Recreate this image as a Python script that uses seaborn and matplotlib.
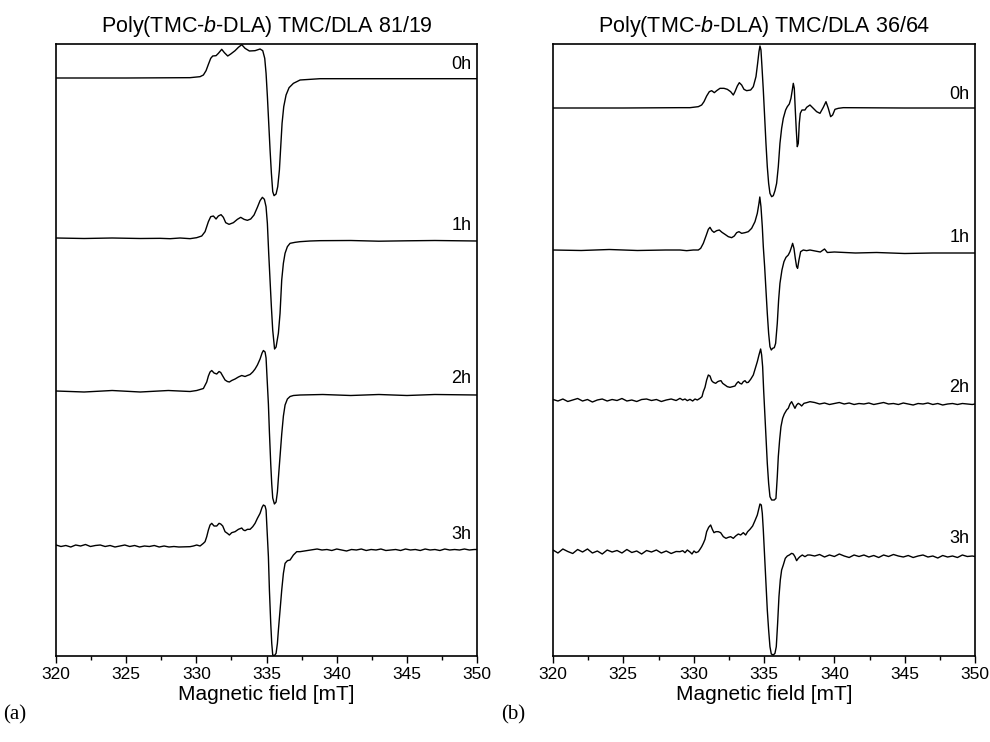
import numpy as np
import pandas as pd
import matplotlib
matplotlib.use("Agg")
import matplotlib.pyplot as plt
import seaborn as sns

# ---------------- data ----------------
# Intensities in arbitrary units relative to each trace's own baseline.
times = ["0h", "1h", "2h", "3h"]

# Panel (a): Poly(TMC-b-DLA) TMC/DLA 81/19
a0_field = [320, 325, 329.549, 330.262, 330.499, 330.689, 330.856, 331.022, 331.164, 331.402, 331.568,
            331.806, 331.996, 332.233, 332.447, 332.756, 332.993, 333.231, 333.468, 333.777, 334.181,
            334.538, 334.728, 334.870, 334.965, 335.060, 335.155, 335.250, 335.345, 335.440, 335.535,
            335.678, 335.796, 335.915, 336.010, 336.105, 336.224, 336.390, 336.604, 336.913, 337.151,
            337.388, 338.81, 342, 346, 350]
a0_int = [0, 0, 0.33, 1.33, 3, 7.33, 13.67, 19.67, 22, 22.33, 24.67, 28.67, 25.33, 22, 24, 27.33,
          30.67, 33.33, 29.67, 27, 27.33, 29, 27.33, 19.67, 4.67, -18.67, -45.33, -72, -95.33,
          -113.67, -117.67, -116, -108.67, -92, -68.67, -45.33, -28.67, -17, -9.67, -5.33, -3.67,
          -2, -0.7, -0.7, -0.7, -0.7]

a1_field = [320, 322, 324, 326, 327.411, 328.124, 328.836, 329.549, 330.024, 330.380, 330.618, 330.855,
            331.021, 331.211, 331.401, 331.567, 331.757, 331.923, 332.089, 332.327, 332.636, 332.921,
            333.158, 333.396, 333.633, 333.871, 334.108, 334.346, 334.536, 334.702, 334.845, 334.963,
            335.058, 335.153, 335.248, 335.343, 335.438, 335.571, 335.678, 335.842, 335.961, 336.080,
            336.198, 336.317, 336.483, 336.673, 337.030, 337.386, 338.099, 338.811, 341, 343, 345,
            347, 350]
a1_int = [1, 0.5, 1, 0.5, 0.67, 0.3, 1, 0.33, 1.33, 3, 7.33, 17.33, 22.33, 23, 20, 23, 24.33, 21.67,
          16.33, 14.67, 16.33, 19.67, 21.67, 19.67, 18.67, 20, 24, 31.67, 38.33, 41.67, 39.67, 32.33,
          15.67, -14.33, -41, -67.67, -91, -110, -108, -94.33, -74.33, -41, -24.33, -14.33, -7.67,
          -4.33, -3.33, -2.67, -2, -1.67, -1.5, -2.2, -1.8, -1.5, -2]

a2_field = [320, 322, 324, 326, 328, 329.549, 330.024, 330.499, 330.737, 330.856, 330.974, 331.093,
            331.259, 331.449, 331.616, 331.734, 331.877, 332.043, 332.209, 332.352, 332.518, 332.756,
            332.993, 333.231, 333.468, 333.635, 333.825, 334.015, 334.181, 334.348, 334.538, 334.680,
            334.775, 334.894, 334.965, 335.036, 335.131, 335.203, 335.298, 335.369, 335.440, 335.559,
            335.678, 335.773, 335.844, 335.963, 336.081, 336.200, 336.319, 336.485, 336.675, 336.913,
            337.388, 339, 341, 343, 345, 347, 350]
a2_int = [1, 0, 1.5, 0, 1.5, 0.5, 1.5, 3.5, 10, 16, 20, 21.5, 19, 18, 20.5, 19.5, 16, 12, 10.5, 10,
          11.5, 13, 15, 16.5, 15.5, 16.5, 17.5, 20, 23, 27, 33, 39, 41.5, 40, 34, 14, -12, -40, -72,
          -92, -106, -112, -110, -100, -86, -64, -42, -24, -13, -7, -4.5, -3.5, -3, -2.5, -3.5,
          -2.5, -3.5, -2.5, -3]

a3_field = [320.0, 320.35, 320.7, 321.05, 321.4, 321.75, 322.1, 322.45, 322.8, 323.15, 323.5, 323.85,
            324.2, 324.55, 324.9, 325.25, 325.6, 325.95, 326.3, 326.65, 327.0, 327.35, 327.7, 328.05,
            328.4, 328.75, 329.549, 329.786, 330.024, 330.262, 330.499, 330.618,
            330.737, 330.856, 330.974, 331.093, 331.259, 331.449, 331.616, 331.734, 331.877, 332.043,
            332.209, 332.352, 332.518, 332.756, 332.993, 333.231, 333.350, 333.468, 333.635, 333.825,
            334.015, 334.181, 334.348, 334.538, 334.680, 334.775, 334.894, 334.965, 335.036, 335.131,
            335.203, 335.298, 335.369, 335.440, 335.559, 335.678, 335.773, 335.844, 335.963, 336.081,
            336.200, 336.319, 336.485, 336.675, 336.913, 337.151, 337.388,
            338.6, 338.95, 339.3, 339.65, 340.0, 340.35, 340.7, 341.05, 341.4, 341.75, 342.1, 342.45,
            342.8, 343.15, 343.5, 343.85, 344.2, 344.55, 344.9, 345.25, 345.6, 345.95, 346.3, 346.65,
            347.0, 347.35, 347.7, 348.05, 348.4, 348.75, 349.1, 349.45, 349.8, 350]
a3_int = [3, 1.5, 2.5, 1, 3, 2, 3.5, 1.5, 2.5, 3, 1.5, 2.5, 1, 2, 3, 1.5, 2.5, 1, 2, 1.5, 2.5, 1, 2,
          1, 1.5, 1,
          1.33, 2, 3, 2, 4.67, 6.33, 11.33, 18, 23, 24.67, 22, 22, 24.67, 24,
          22, 16.33, 14.67, 13, 15.33, 16.33, 18.67, 20, 18, 17.33, 18.67, 18.67, 21.33, 24.67,
          29.67, 34.67, 40.67, 43, 42, 38, 18, -8.67, -42, -75.33, -95.33, -107, -107.67, -105.33,
          -95.33, -82, -62, -42, -25.33, -15.33, -12.67, -12, -7, -3.67, -3.67,
          -1, -2, -1.5, -2.5, -1, -2, -3, -1.5, -2, -1, -2.5, -1.5, -2, -1, -2.5, -2, -1.5, -2.5,
          -1, -2, -1.5, -2.5, -1, -2, -1.5, -2.5, -1, -2, -1.5, -2, -1, -2, -1.5, -1.5]

# Panel (b): Poly(TMC-b-DLA) TMC/DLA 36/64
b0_field = [320, 325, 329.026, 329.737, 330.329, 330.566, 330.732, 330.921, 331.111, 331.277, 331.466,
            331.632, 331.869, 332.153, 332.390, 332.627, 332.816, 332.935, 333.101, 333.243, 333.409,
            333.574, 333.764, 334.048, 334.237, 334.427, 334.545, 334.640, 334.711, 334.782, 334.853,
            334.948, 335.043, 335.137, 335.232, 335.327, 335.421, 335.540, 335.658, 335.777, 335.895,
            336.014, 336.132, 336.251, 336.369, 336.535, 336.654, 336.796, 336.914, 337.009, 337.080,
            337.151, 337.222, 337.293, 337.364, 337.435, 337.506, 337.577, 337.696, 337.909, 338.029,
            338.266, 338.503, 338.740, 338.977, 339.213, 339.403, 339.568, 339.734, 339.876, 340.042,
            340.279, 340.634, 345, 350]
b0_int = [0, 0, 0.33, 0.33, 1.33, 3, 6.33, 12, 16.33, 17.33, 15.33, 17.33, 19.67, 19.67, 18.67, 16.33,
          13, 16.33, 22, 25.33, 23, 18.67, 17.33, 18, 21.33, 31.33, 44.67, 56.33, 62, 58, 41.33, 18,
          -8.67, -35.33, -58.67, -75.33, -85.33, -88.67, -87.67, -82.67, -75.33, -58.67, -35.33,
          -20.33, -10.33, -2, 1.33, 4, 9.67, 18, 24.67, 19.67, -2, -22, -38.67, -35.33, -15.33,
          -5.33, -2, -2, 0.67, 3, -0.33, -3.67, -5.33, 0.67, 6.33, -0.33, -8.67, -7, -1.33, -0.33,
          0.33, 0, 0]

b1_field = [320, 322, 324, 326, 328, 329.026, 329.500, 329.974, 330.329, 330.495, 330.684, 330.874,
            331.040, 331.158, 331.300, 331.442, 331.632, 331.821, 332.011, 332.224, 332.461, 332.698,
            332.887, 333.053, 333.219, 333.409, 333.646, 333.882, 334.119, 334.356, 334.522, 334.640,
            334.700, 334.782, 334.877, 334.948, 335.043, 335.137, 335.232, 335.327, 335.421, 335.516,
            335.611, 335.729, 335.824, 335.942, 336.037, 336.132, 336.274, 336.416, 336.559, 336.724,
            336.843, 336.961, 337.032, 337.127, 337.222, 337.316, 337.387, 337.482, 337.601, 337.790,
            338.027, 338.265, 339.0, 339.3, 339.5, 340, 341.5, 343, 345, 347, 350]
b1_int = [1, 0.5, 1.5, 0.5, 1, 1, 0.33, 1, 1, 2.67, 7.67, 15, 21.67, 23.67, 20.33, 18.67, 20.33, 21,
          18.67, 16.67, 14.33, 13.33, 15, 18.33, 19.33, 17.67, 18.33, 19.33, 22.67, 29.33, 37.67,
          47.67, 54, 44.33, 24.33, 4.33, -15.67, -39, -62.33, -82.33, -95.67, -99, -97.33, -96.67,
          -92.33, -72.33, -49, -32.33, -19, -10.67, -6.33, -4, -0.67, 4.33, 7.67, 2.67, -7.33,
          -15.67, -17.33, -9, -0.67, 1, 0.33, 1, -1, 2, -1.5, -1, -2, -1.5, -2.5, -2, -2]

b2_field = [320.0, 320.35, 320.7, 321.05, 321.4, 321.75, 322.1, 322.45, 322.8, 323.15, 323.5, 323.85,
            324.2, 324.55, 324.9, 325.25, 325.6, 325.95, 326.3, 326.65, 327.0, 327.35, 327.7, 328.05,
            328.4, 328.75, 329.026, 329.216, 329.382, 329.547, 329.737,
            329.926, 330.092, 330.258, 330.447, 330.590, 330.684, 330.803, 330.921, 331.040, 331.158,
            331.277, 331.395, 331.561, 331.703, 331.821, 331.940, 332.058, 332.224, 332.390, 332.580,
            332.769, 332.935, 333.053, 333.172, 333.290, 333.409, 333.527, 333.646, 333.764, 333.882,
            334.048, 334.237, 334.380, 334.522, 334.640, 334.759, 334.830, 334.901, 334.972, 335.066,
            335.137, 335.232, 335.327, 335.421, 335.540, 335.729, 335.847, 335.942, 336.014, 336.108,
            336.203, 336.322, 336.440, 336.606, 336.724, 336.843, 336.961, 337.080, 337.198, 337.316,
            337.435, 337.553, 337.672, 337.838, 338.027, 338.265,
            338.6, 338.95, 339.3, 339.65, 340.0, 340.35, 340.7, 341.05, 341.4, 341.75, 342.1, 342.45,
            342.8, 343.15, 343.5, 343.85, 344.2, 344.55, 344.9, 345.25, 345.6, 345.95, 346.3, 346.65,
            347.0, 347.35, 347.7, 348.05, 348.4, 348.75, 349.1, 349.45, 349.8, 350]
b2_int = [1.5, 0, 2, -0.5, 1, 2.5, 0, 1.5, -1, 1, 2, 0, 1.5, 0.5, 2.5, 0, 1, -0.5, 1.5, 2, 0.5, 1.5,
          -0.5, 1, 2, 0.5,
          2.67, 1, 2, 0.33, 1.67, 0, 2, 1, 2.67, 4.33, 9.33, 13.67, 21,
          26, 25, 20.33, 18.67, 17.67, 19.33, 20, 20.33, 17.67, 16, 14.33, 13.67, 14.33, 15, 17.67,
          19.33, 17.67, 17, 19.33, 20.33, 18.33, 18.67, 21.67, 26, 32.67, 39.33, 46, 52, 46, 34.33,
          11, -15.67, -35.67, -62.33, -82.33, -95.67, -99, -99, -97.33, -75.67, -55.67, -39, -25.67,
          -17.33, -13, -9, -7.33, -3, -0.67, -4, -7.33, -4, -2.33, -3.33, -5, -2.33, -1.67, -0.67,
          -1.5, -3, -2, -3.5, -2.5, -1.5, -3, -2, -3.5, -2.5, -3, -2, -3.5, -2.5, -1.5, -3, -2.5,
          -3.5, -2, -3, -4, -2.5, -3, -2, -3.5, -2.5, -4, -3, -2.5, -3.5, -2.5, -3, -3.5, -3]

b3_field = [320.0, 320.35, 320.7, 321.05, 321.4, 321.75, 322.1, 322.45, 322.8, 323.15, 323.5, 323.85,
            324.2, 324.55, 324.9, 325.25, 325.6, 325.95, 326.3, 326.65, 327.0, 327.35, 327.7, 328.05,
            328.4, 328.75,
            329.026, 329.216, 329.382, 329.547, 329.737, 329.879, 330.021, 330.163, 330.329, 330.447,
            330.566, 330.684, 330.803, 330.921, 331.063, 331.205, 331.324, 331.442, 331.584, 331.750,
            331.916, 332.106, 332.295, 332.461, 332.627, 332.816, 332.982, 333.172, 333.338, 333.527,
            333.693, 333.835, 334.001, 334.190, 334.356, 334.522, 334.640, 334.711, 334.806, 334.877,
            334.948, 335.043, 335.137, 335.232, 335.327, 335.421, 335.516, 335.658, 335.777, 335.871,
            335.966, 336.061, 336.156, 336.251, 336.369, 336.511, 336.654, 336.796, 336.961, 337.080,
            337.198, 337.316, 337.435, 337.553, 337.719, 337.909, 338.099, 338.265,
            338.6, 338.95, 339.3, 339.65, 340.0, 340.35, 340.7, 341.05, 341.4, 341.75, 342.1, 342.45,
            342.8, 343.15, 343.5, 343.85, 344.2, 344.55, 344.9, 345.25, 345.6, 345.95, 346.3, 346.65,
            347.0, 347.35, 347.7, 348.05, 348.4, 348.75, 349.1, 349.45, 349.8, 350]
b3_int = [2, -1, 3, 0.5, -1.5, 2.5, 0, 3, -1, 1, -2, 2, 0, 1.5, -1, 2.5, -0.5, 1, -2, 1.5, 0, 2, -1,
          1, -1.5, 0.5,
          0.33, 1.33, -0.67, 2, 0, -2, 1, -0.67, 0.33,
          2.67, 5.33, 8.67, 12.67, 20.33, 24.67, 27, 22.67, 19.33, 20.33, 20.33, 19.33, 15.33, 13.67,
          14.67, 15.33, 13.67, 16, 18, 17, 19.33, 17, 20.33, 22.67, 26, 31.33, 37, 43.67, 48, 47,
          38.67, 22, -4.67, -31.33, -58, -78, -94.67, -102, -103, -101.33, -94.67, -71.33, -44.67,
          -28, -18, -13, -6.33, -4, -3, -1.33, -2, -4.67, -8.67, -6.33, -4.67, -3, -4.67, -3, -3,
          -4, -2.5, -5, -3, -4.5, -2, -4, -5.5, -3, -4.5, -3, -5, -3.5, -5.5, -3, -4.5, -2.5, -4,
          -5, -3.5, -5.5, -4, -3, -5, -4, -6, -3.5, -5, -4, -5.5, -3, -4.5, -4, -4.5]

# vertical stacking offsets of each trace (axis units)
a_offsets = [578, 417, 264, 108]
b_offsets = [548, 405, 255, 104]

titles = ["Poly(TMC-$\\mathit{b}$-DLA) TMC/DLA 81/19", "Poly(TMC-$\\mathit{b}$-DLA) TMC/DLA 36/64"]
panel_tags = ["(a)", "(b)"]
xlabel = "Magnetic field [mT]"

panels = [
    (list(zip([a0_field, a1_field, a2_field, a3_field], [a0_int, a1_int, a2_int, a3_int])), a_offsets),
    (list(zip([b0_field, b1_field, b2_field, b3_field], [b0_int, b1_int, b2_int, b3_int])), b_offsets),
]

# ---------------- style ----------------
sns.set_theme(style="ticks")
plt.rcParams["font.family"] = ["Liberation Sans", "DejaVu Sans"]
plt.rcParams["mathtext.fontset"] = "custom"
plt.rcParams["mathtext.rm"] = "Liberation Sans"
plt.rcParams["mathtext.it"] = "Liberation Sans:italic"
plt.rcParams["text.color"] = "black"
plt.rcParams["axes.labelcolor"] = "black"
plt.rcParams["xtick.color"] = "black"
plt.rcParams["xtick.labelcolor"] = "black"

fig = plt.figure(figsize=(9.9, 7.42), dpi=100)
ax_pos = [[0.0566, 0.1159, 0.4253, 0.8248], [0.5586, 0.1159, 0.4263, 0.8248]]
tag_pos = [(0.003, 0.036), (0.506, 0.036)]

for i, ((traces, offsets), pos) in enumerate(zip(panels, ax_pos)):
    ax = fig.add_axes(pos)
    for (fld, inten), off, lab in zip(traces, offsets, times):
        df = pd.DataFrame({"field": fld, "signal": np.array(inten, dtype=float) + off})
        sns.lineplot(data=df, x="field", y="signal", ax=ax, color="black", lw=1.0,
                     estimator=None, sort=False)
        ax.text(349.6, off + 5, lab, ha="right", va="bottom", fontsize=13, color="black")
    ax.set_xlim(320, 350)
    ax.set_ylim(0, 612)
    ax.set_xticks(np.arange(320, 351, 5))
    ax.set_xticks(np.arange(322.5, 350, 5), minor=True)
    ax.set_yticks([])
    ax.set_ylabel("")
    ax.set_xlabel(xlabel, fontsize=15, labelpad=2, color="black")
    ax.tick_params(axis="x", which="major", direction="out", length=5, width=1, labelsize=12.5, pad=3)
    ax.tick_params(axis="x", which="minor", direction="out", length=3, width=1)
    for sp in ax.spines.values():
        sp.set_visible(True)
        sp.set_color("black")
        sp.set_linewidth(1.2)
    ax.set_title(titles[i], fontsize=15.5, pad=9, color="black")
    fig.text(tag_pos[i][0], tag_pos[i][1], panel_tags[i], family="Liberation Serif", fontsize=15,
             ha="left", va="center", color="black")

fig.savefig("out.png", dpi=100)
